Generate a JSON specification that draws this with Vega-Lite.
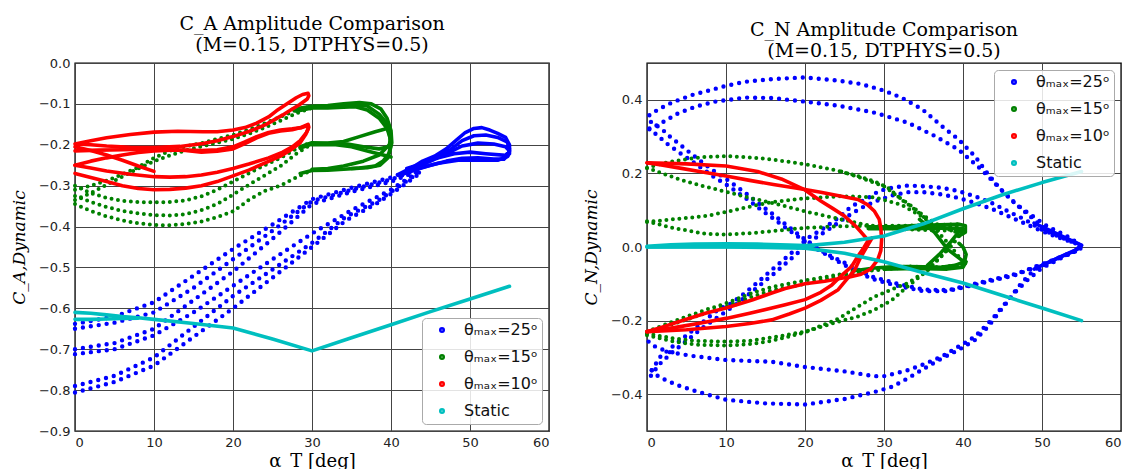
{
"$schema": "https://vega.github.io/schema/vega-lite/v6.json",
"background": "white",
"padding": {"left": 9, "top": 14, "right": 0, "bottom": 0},
"spacing": 31,
"resolve": {"scale": {"color": "independent"}, "legend": {"color": "independent"}},
"config": {
  "view": {"stroke": "black", "strokeWidth": 1.4},
  "axis": {"grid": true, "gridColor": "#444444", "gridWidth": 1, "domain": false, "ticks": false, "labelPadding": 5, "labelFont": "DejaVu Sans", "labelFontSize": 13, "labelColor": "#222222", "titleFont": "DejaVu Serif", "titleFontSize": 18, "titleFontWeight": "normal", "titleColor": "#000000"},
  "axisX": {"titlePadding": 3},
  "axisY": {"titlePadding": 10, "titleFontStyle": "italic", "titleFontSize": 17},
  "title": {"font": "DejaVu Serif", "fontSize": 19, "fontWeight": "normal", "color": "#000000", "lineHeight": 21, "offset": 2},
  "legend": {"title": null, "offset": 7, "symbolType": "circle", "symbolSize": 6, "symbolStrokeWidth": 3.6, "symbolDash": [], "symbolOffset": 8, "labelOffset": 14, "labelFont": "DejaVu Sans", "labelFontSize": 16, "labelColor": "#111111", "rowPadding": 9, "padding": 4, "fillColor": "rgba(255,255,255,0.85)", "strokeColor": "#aaaaaa", "cornerRadius": 4}
},
"datasets": {
"a_dot": [
{"s":"25","b":"b1","x":0,"y":-0.638},{"s":"25","b":"b1","x":5,"y":-0.62},{"s":"25","b":"b1","x":10,"y":-0.585},{"s":"25","b":"b1","x":15,"y":-0.52},{"s":"25","b":"b1","x":20,"y":-0.455},{"s":"25","b":"b1","x":25,"y":-0.395},{"s":"25","b":"b1","x":30,"y":-0.333},{"s":"25","b":"b1","x":35,"y":-0.305},{"s":"25","b":"b1","x":40,"y":-0.28},{"s":"25","b":"b1","x":44,"y":-0.25},
{"s":"25","b":"b2","x":0,"y":-0.65},{"s":"25","b":"b2","x":5,"y":-0.635},{"s":"25","b":"b2","x":10,"y":-0.61},{"s":"25","b":"b2","x":15,"y":-0.55},{"s":"25","b":"b2","x":20,"y":-0.48},{"s":"25","b":"b2","x":25,"y":-0.41},{"s":"25","b":"b2","x":30,"y":-0.338},{"s":"25","b":"b2","x":35,"y":-0.31},{"s":"25","b":"b2","x":40,"y":-0.285},{"s":"25","b":"b2","x":44,"y":-0.255},
{"s":"25","b":"b3","x":0,"y":-0.7},{"s":"25","b":"b3","x":5,"y":-0.685},{"s":"25","b":"b3","x":10,"y":-0.65},{"s":"25","b":"b3","x":15,"y":-0.58},{"s":"25","b":"b3","x":20,"y":-0.51},{"s":"25","b":"b3","x":25,"y":-0.43},{"s":"25","b":"b3","x":30,"y":-0.345},{"s":"25","b":"b3","x":35,"y":-0.315},{"s":"25","b":"b3","x":40,"y":-0.29},{"s":"25","b":"b3","x":44,"y":-0.26},
{"s":"25","b":"b4","x":0,"y":-0.712},{"s":"25","b":"b4","x":5,"y":-0.7},{"s":"25","b":"b4","x":10,"y":-0.666},{"s":"25","b":"b4","x":15,"y":-0.61},{"s":"25","b":"b4","x":20,"y":-0.545},{"s":"25","b":"b4","x":25,"y":-0.48},{"s":"25","b":"b4","x":30,"y":-0.417},{"s":"25","b":"b4","x":35,"y":-0.36},{"s":"25","b":"b4","x":40,"y":-0.31},{"s":"25","b":"b4","x":44,"y":-0.258},
{"s":"25","b":"b5","x":0,"y":-0.79},{"s":"25","b":"b5","x":5,"y":-0.765},{"s":"25","b":"b5","x":10,"y":-0.72},{"s":"25","b":"b5","x":15,"y":-0.645},{"s":"25","b":"b5","x":20,"y":-0.57},{"s":"25","b":"b5","x":25,"y":-0.505},{"s":"25","b":"b5","x":30,"y":-0.44},{"s":"25","b":"b5","x":34.3,"y":-0.376},{"s":"25","b":"b5","x":38.5,"y":-0.335},{"s":"25","b":"b5","x":41.5,"y":-0.295},{"s":"25","b":"b5","x":44,"y":-0.262},
{"s":"25","b":"b6","x":0,"y":-0.806},{"s":"25","b":"b6","x":5,"y":-0.78},{"s":"25","b":"b6","x":10,"y":-0.74},{"s":"25","b":"b6","x":15,"y":-0.67},{"s":"25","b":"b6","x":20,"y":-0.6},{"s":"25","b":"b6","x":25,"y":-0.525},{"s":"25","b":"b6","x":30,"y":-0.45},{"s":"25","b":"b6","x":34.3,"y":-0.385},{"s":"25","b":"b6","x":38.5,"y":-0.34},{"s":"25","b":"b6","x":41.5,"y":-0.3},{"s":"25","b":"b6","x":44,"y":-0.265},
{"s":"15","b":"g1","x":0,"y":-0.31},{"s":"15","b":"g1","x":2,"y":-0.3},{"s":"15","b":"g1","x":4,"y":-0.288},{"s":"15","b":"g1","x":6,"y":-0.272},{"s":"15","b":"g1","x":8,"y":-0.255},{"s":"15","b":"g1","x":10,"y":-0.232},{"s":"15","b":"g1","x":12,"y":-0.215},{"s":"15","b":"g1","x":14,"y":-0.204},{"s":"15","b":"g1","x":16,"y":-0.196},{"s":"15","b":"g1","x":18,"y":-0.186},{"s":"15","b":"g1","x":20,"y":-0.176},{"s":"15","b":"g1","x":22,"y":-0.163},{"s":"15","b":"g1","x":24,"y":-0.148},{"s":"15","b":"g1","x":26,"y":-0.132},{"s":"15","b":"g1","x":28,"y":-0.115},{"s":"15","b":"g1","x":30,"y":-0.106},
{"s":"15","b":"g2","x":0,"y":-0.335},{"s":"15","b":"g2","x":2,"y":-0.318},{"s":"15","b":"g2","x":4,"y":-0.298},{"s":"15","b":"g2","x":6,"y":-0.278},{"s":"15","b":"g2","x":8,"y":-0.258},{"s":"15","b":"g2","x":10,"y":-0.24},{"s":"15","b":"g2","x":12,"y":-0.226},{"s":"15","b":"g2","x":14,"y":-0.214},{"s":"15","b":"g2","x":16,"y":-0.204},{"s":"15","b":"g2","x":18,"y":-0.195},{"s":"15","b":"g2","x":20,"y":-0.186},{"s":"15","b":"g2","x":22,"y":-0.173},{"s":"15","b":"g2","x":24,"y":-0.158},{"s":"15","b":"g2","x":26,"y":-0.141},{"s":"15","b":"g2","x":28,"y":-0.123},{"s":"15","b":"g2","x":30,"y":-0.11},
{"s":"15","b":"g3","x":0,"y":-0.345},{"s":"15","b":"g3","x":2,"y":-0.362},{"s":"15","b":"g3","x":4,"y":-0.375},{"s":"15","b":"g3","x":6,"y":-0.385},{"s":"15","b":"g3","x":8,"y":-0.392},{"s":"15","b":"g3","x":10,"y":-0.396},{"s":"15","b":"g3","x":12,"y":-0.397},{"s":"15","b":"g3","x":14,"y":-0.394},{"s":"15","b":"g3","x":16,"y":-0.388},{"s":"15","b":"g3","x":18,"y":-0.377},{"s":"15","b":"g3","x":20,"y":-0.363},{"s":"15","b":"g3","x":22,"y":-0.335},{"s":"15","b":"g3","x":24,"y":-0.313},{"s":"15","b":"g3","x":26,"y":-0.3},{"s":"15","b":"g3","x":28,"y":-0.28},{"s":"15","b":"g3","x":30,"y":-0.262},
{"s":"15","b":"g4","x":0,"y":-0.325},{"s":"15","b":"g4","x":2,"y":-0.34},{"s":"15","b":"g4","x":4,"y":-0.352},{"s":"15","b":"g4","x":6,"y":-0.362},{"s":"15","b":"g4","x":8,"y":-0.368},{"s":"15","b":"g4","x":10,"y":-0.372},{"s":"15","b":"g4","x":12,"y":-0.373},{"s":"15","b":"g4","x":14,"y":-0.37},{"s":"15","b":"g4","x":16,"y":-0.36},{"s":"15","b":"g4","x":18,"y":-0.345},{"s":"15","b":"g4","x":20,"y":-0.322},{"s":"15","b":"g4","x":22,"y":-0.298},{"s":"15","b":"g4","x":24,"y":-0.275},{"s":"15","b":"g4","x":26,"y":-0.252},{"s":"15","b":"g4","x":28,"y":-0.222},{"s":"15","b":"g4","x":30,"y":-0.198},
{"s":"15","b":"g5","x":0,"y":-0.3},{"s":"15","b":"g5","x":2,"y":-0.318},{"s":"15","b":"g5","x":4,"y":-0.33},{"s":"15","b":"g5","x":6,"y":-0.337},{"s":"15","b":"g5","x":8,"y":-0.34},{"s":"15","b":"g5","x":10,"y":-0.341},{"s":"15","b":"g5","x":12,"y":-0.34},{"s":"15","b":"g5","x":14,"y":-0.336},{"s":"15","b":"g5","x":16,"y":-0.326},{"s":"15","b":"g5","x":18,"y":-0.31},{"s":"15","b":"g5","x":20,"y":-0.29},{"s":"15","b":"g5","x":22,"y":-0.27},{"s":"15","b":"g5","x":24,"y":-0.25},{"s":"15","b":"g5","x":26,"y":-0.232},{"s":"15","b":"g5","x":28,"y":-0.21},{"s":"15","b":"g5","x":30,"y":-0.193}
],
"a_solid": [
{"s":"25","b":"L1","x":41,"y":-0.272},{"s":"25","b":"L1","x":42,"y":-0.262},{"s":"25","b":"L1","x":43,"y":-0.252},{"s":"25","b":"L1","x":44,"y":-0.24},{"s":"25","b":"L1","x":45.5,"y":-0.228},{"s":"25","b":"L1","x":47,"y":-0.21},{"s":"25","b":"L1","x":48.2,"y":-0.19},{"s":"25","b":"L1","x":49.4,"y":-0.17},{"s":"25","b":"L1","x":50.5,"y":-0.16},{"s":"25","b":"L1","x":51.5,"y":-0.158},{"s":"25","b":"L1","x":52.5,"y":-0.164},{"s":"25","b":"L1","x":53.5,"y":-0.172},{"s":"25","b":"L1","x":54.5,"y":-0.182},{"s":"25","b":"L1","x":55,"y":-0.2},{"s":"25","b":"L1","x":55,"y":-0.222},{"s":"25","b":"L1","x":54.3,"y":-0.235},{"s":"25","b":"L1","x":53,"y":-0.235},{"s":"25","b":"L1","x":51,"y":-0.232},{"s":"25","b":"L1","x":49,"y":-0.233},{"s":"25","b":"L1","x":47,"y":-0.24},{"s":"25","b":"L1","x":45,"y":-0.25},{"s":"25","b":"L1","x":43,"y":-0.262},{"s":"25","b":"L1","x":41,"y":-0.275},
{"s":"25","b":"L2","x":42,"y":-0.26},{"s":"25","b":"L2","x":44,"y":-0.247},{"s":"25","b":"L2","x":46,"y":-0.23},{"s":"25","b":"L2","x":47.5,"y":-0.212},{"s":"25","b":"L2","x":49,"y":-0.19},{"s":"25","b":"L2","x":50.5,"y":-0.178},{"s":"25","b":"L2","x":52,"y":-0.176},{"s":"25","b":"L2","x":53.5,"y":-0.182},{"s":"25","b":"L2","x":54.7,"y":-0.193},{"s":"25","b":"L2","x":55,"y":-0.21},{"s":"25","b":"L2","x":54.8,"y":-0.228},{"s":"25","b":"L2","x":53.5,"y":-0.238},{"s":"25","b":"L2","x":51,"y":-0.237},{"s":"25","b":"L2","x":48.5,"y":-0.238},{"s":"25","b":"L2","x":46,"y":-0.245},{"s":"25","b":"L2","x":44,"y":-0.255},{"s":"25","b":"L2","x":42,"y":-0.267},
{"s":"25","b":"L3","x":43,"y":-0.255},{"s":"25","b":"L3","x":45,"y":-0.24},{"s":"25","b":"L3","x":47,"y":-0.222},{"s":"25","b":"L3","x":49,"y":-0.203},{"s":"25","b":"L3","x":51,"y":-0.196},{"s":"25","b":"L3","x":53,"y":-0.198},{"s":"25","b":"L3","x":54.5,"y":-0.205},{"s":"25","b":"L3","x":55,"y":-0.215},{"s":"25","b":"L3","x":54.5,"y":-0.226},{"s":"25","b":"L3","x":52,"y":-0.222},{"s":"25","b":"L3","x":50,"y":-0.218},{"s":"25","b":"L3","x":48,"y":-0.222},{"s":"25","b":"L3","x":46,"y":-0.232},{"s":"25","b":"L3","x":44,"y":-0.246},{"s":"25","b":"L3","x":42,"y":-0.258},
{"s":"15","b":"C1","x":27.5,"y":-0.113},{"s":"15","b":"C1","x":30,"y":-0.106},{"s":"15","b":"C1","x":32,"y":-0.104},{"s":"15","b":"C1","x":34,"y":-0.1},{"s":"15","b":"C1","x":36,"y":-0.097},{"s":"15","b":"C1","x":37.5,"y":-0.1},{"s":"15","b":"C1","x":38.7,"y":-0.112},{"s":"15","b":"C1","x":39.5,"y":-0.135},{"s":"15","b":"C1","x":40,"y":-0.165},{"s":"15","b":"C1","x":40.1,"y":-0.195},{"s":"15","b":"C1","x":39.8,"y":-0.22},{"s":"15","b":"C1","x":39,"y":-0.24},{"s":"15","b":"C1","x":38,"y":-0.252},{"s":"15","b":"C1","x":36,"y":-0.257},{"s":"15","b":"C1","x":34,"y":-0.26},{"s":"15","b":"C1","x":32,"y":-0.262},{"s":"15","b":"C1","x":30,"y":-0.263},{"s":"15","b":"C1","x":28.5,"y":-0.27},
{"s":"15","b":"C2","x":28,"y":-0.118},{"s":"15","b":"C2","x":30,"y":-0.11},{"s":"15","b":"C2","x":32,"y":-0.11},{"s":"15","b":"C2","x":34,"y":-0.108},{"s":"15","b":"C2","x":35.5,"y":-0.107},{"s":"15","b":"C2","x":37,"y":-0.115},{"s":"15","b":"C2","x":38.5,"y":-0.135},{"s":"15","b":"C2","x":39.5,"y":-0.16},{"s":"15","b":"C2","x":40,"y":-0.19},{"s":"15","b":"C2","x":39.7,"y":-0.205},{"s":"15","b":"C2","x":38.5,"y":-0.21},{"s":"15","b":"C2","x":36.5,"y":-0.205},{"s":"15","b":"C2","x":34.5,"y":-0.198},{"s":"15","b":"C2","x":32,"y":-0.197},{"s":"15","b":"C2","x":30,"y":-0.198},{"s":"15","b":"C2","x":28.5,"y":-0.208},
{"s":"15","b":"C3","x":28.5,"y":-0.205},{"s":"15","b":"C3","x":30,"y":-0.195},{"s":"15","b":"C3","x":32,"y":-0.196},{"s":"15","b":"C3","x":34,"y":-0.192},{"s":"15","b":"C3","x":36,"y":-0.18},{"s":"15","b":"C3","x":38,"y":-0.168},{"s":"15","b":"C3","x":39.5,"y":-0.16},{"s":"15","b":"C3","x":40,"y":-0.175},{"s":"15","b":"C3","x":39.8,"y":-0.2},{"s":"15","b":"C3","x":38.5,"y":-0.225},{"s":"15","b":"C3","x":36.5,"y":-0.24},{"s":"15","b":"C3","x":34,"y":-0.252},{"s":"15","b":"C3","x":32,"y":-0.258},{"s":"15","b":"C3","x":30,"y":-0.26},
{"s":"15","b":"C4","x":30,"y":-0.108},{"s":"15","b":"C4","x":33,"y":-0.106},{"s":"15","b":"C4","x":35,"y":-0.102},{"s":"15","b":"C4","x":37,"y":-0.105},{"s":"15","b":"C4","x":38.5,"y":-0.125},{"s":"15","b":"C4","x":39.6,"y":-0.15},{"s":"15","b":"C4","x":40,"y":-0.2},{"s":"15","b":"C4","x":39.6,"y":-0.232},{"s":"15","b":"C4","x":38.6,"y":-0.25},{"s":"15","b":"C4","x":37,"y":-0.256},{"s":"15","b":"C4","x":35,"y":-0.258},
{"s":"15","b":"C5","x":30,"y":-0.2},{"s":"15","b":"C5","x":33,"y":-0.2},{"s":"15","b":"C5","x":35,"y":-0.205},{"s":"15","b":"C5","x":37,"y":-0.215},{"s":"15","b":"C5","x":39,"y":-0.225},{"s":"15","b":"C5","x":40,"y":-0.23},
{"s":"10","b":"R0","x":0,"y":-0.205},{"s":"10","b":"R0","x":2,"y":-0.214},{"s":"10","b":"R0","x":4,"y":-0.225},{"s":"10","b":"R0","x":6,"y":-0.238},{"s":"10","b":"R0","x":8,"y":-0.252},{"s":"10","b":"R0","x":10,"y":-0.265},
{"s":"10","b":"R1","x":0,"y":-0.198},{"s":"10","b":"R1","x":2,"y":-0.19},{"s":"10","b":"R1","x":4,"y":-0.183},{"s":"10","b":"R1","x":7,"y":-0.175},{"s":"10","b":"R1","x":10,"y":-0.169},{"s":"10","b":"R1","x":13,"y":-0.167},{"s":"10","b":"R1","x":16.2,"y":-0.168},{"s":"10","b":"R1","x":18,"y":-0.168},{"s":"10","b":"R1","x":20,"y":-0.164},{"s":"10","b":"R1","x":21.5,"y":-0.158},{"s":"10","b":"R1","x":23,"y":-0.147},{"s":"10","b":"R1","x":24.5,"y":-0.132},{"s":"10","b":"R1","x":25.5,"y":-0.117},{"s":"10","b":"R1","x":26.8,"y":-0.1},{"s":"10","b":"R1","x":28,"y":-0.085},{"s":"10","b":"R1","x":28.8,"y":-0.077},{"s":"10","b":"R1","x":29.5,"y":-0.074},{"s":"10","b":"R1","x":29.6,"y":-0.08},{"s":"10","b":"R1","x":29.4,"y":-0.088},{"s":"10","b":"R1","x":28.4,"y":-0.102},{"s":"10","b":"R1","x":27.3,"y":-0.115},{"s":"10","b":"R1","x":26.3,"y":-0.127},{"s":"10","b":"R1","x":24.2,"y":-0.15},{"s":"10","b":"R1","x":22.1,"y":-0.167},{"s":"10","b":"R1","x":20,"y":-0.18},{"s":"10","b":"R1","x":18,"y":-0.19},{"s":"10","b":"R1","x":16.2,"y":-0.197},{"s":"10","b":"R1","x":13.3,"y":-0.204},{"s":"10","b":"R1","x":10,"y":-0.207},{"s":"10","b":"R1","x":7,"y":-0.206},{"s":"10","b":"R1","x":4,"y":-0.203},{"s":"10","b":"R1","x":2,"y":-0.2},{"s":"10","b":"R1","x":0,"y":-0.198},
{"s":"10","b":"R2","x":0,"y":-0.215},{"s":"10","b":"R2","x":3,"y":-0.213},{"s":"10","b":"R2","x":6,"y":-0.212},{"s":"10","b":"R2","x":9,"y":-0.211},{"s":"10","b":"R2","x":12,"y":-0.212},{"s":"10","b":"R2","x":14,"y":-0.214},{"s":"10","b":"R2","x":16,"y":-0.218},{"s":"10","b":"R2","x":18,"y":-0.216},{"s":"10","b":"R2","x":20,"y":-0.21},{"s":"10","b":"R2","x":21.5,"y":-0.197},{"s":"10","b":"R2","x":23,"y":-0.183},{"s":"10","b":"R2","x":24.5,"y":-0.172},{"s":"10","b":"R2","x":26,"y":-0.166},{"s":"10","b":"R2","x":27.5,"y":-0.163},{"s":"10","b":"R2","x":28.7,"y":-0.157},{"s":"10","b":"R2","x":29.5,"y":-0.15},{"s":"10","b":"R2","x":29.6,"y":-0.157},{"s":"10","b":"R2","x":29.3,"y":-0.17},{"s":"10","b":"R2","x":28.5,"y":-0.19},{"s":"10","b":"R2","x":27.5,"y":-0.205},{"s":"10","b":"R2","x":26.3,"y":-0.218},{"s":"10","b":"R2","x":24.5,"y":-0.232},{"s":"10","b":"R2","x":22,"y":-0.247},{"s":"10","b":"R2","x":20,"y":-0.258},{"s":"10","b":"R2","x":18,"y":-0.267},{"s":"10","b":"R2","x":16,"y":-0.274},{"s":"10","b":"R2","x":14,"y":-0.278},{"s":"10","b":"R2","x":12,"y":-0.279},{"s":"10","b":"R2","x":10,"y":-0.278},{"s":"10","b":"R2","x":7,"y":-0.272},{"s":"10","b":"R2","x":4,"y":-0.264},{"s":"10","b":"R2","x":2,"y":-0.257},{"s":"10","b":"R2","x":0,"y":-0.25},
{"s":"10","b":"R3","x":0,"y":-0.25},{"s":"10","b":"R3","x":2,"y":-0.24},{"s":"10","b":"R3","x":4,"y":-0.232},{"s":"10","b":"R3","x":6,"y":-0.225},{"s":"10","b":"R3","x":8,"y":-0.219},{"s":"10","b":"R3","x":10,"y":-0.215},{"s":"10","b":"R3","x":12,"y":-0.213},{"s":"10","b":"R3","x":14,"y":-0.213},{"s":"10","b":"R3","x":16,"y":-0.214},{"s":"10","b":"R3","x":18,"y":-0.212},{"s":"10","b":"R3","x":20,"y":-0.205},{"s":"10","b":"R3","x":21.5,"y":-0.193},{"s":"10","b":"R3","x":23,"y":-0.18},{"s":"10","b":"R3","x":24.5,"y":-0.17},{"s":"10","b":"R3","x":26,"y":-0.164},{"s":"10","b":"R3","x":27.5,"y":-0.161},{"s":"10","b":"R3","x":28.7,"y":-0.158},{"s":"10","b":"R3","x":29.5,"y":-0.153},{"s":"10","b":"R3","x":29.5,"y":-0.162},{"s":"10","b":"R3","x":29.2,"y":-0.175},{"s":"10","b":"R3","x":28.5,"y":-0.195},{"s":"10","b":"R3","x":27.5,"y":-0.21},{"s":"10","b":"R3","x":26,"y":-0.228},{"s":"10","b":"R3","x":24,"y":-0.245},{"s":"10","b":"R3","x":22,"y":-0.262},{"s":"10","b":"R3","x":20,"y":-0.276},{"s":"10","b":"R3","x":18,"y":-0.29},{"s":"10","b":"R3","x":16,"y":-0.3},{"s":"10","b":"R3","x":14,"y":-0.306},{"s":"10","b":"R3","x":12,"y":-0.309},{"s":"10","b":"R3","x":10,"y":-0.31},{"s":"10","b":"R3","x":8,"y":-0.307},{"s":"10","b":"R3","x":6,"y":-0.3},{"s":"10","b":"R3","x":4,"y":-0.29},{"s":"10","b":"R3","x":2,"y":-0.28},{"s":"10","b":"R3","x":0,"y":-0.27},
{"s":"S","b":"S1","x":0,"y":-0.61},{"s":"S","b":"S1","x":2,"y":-0.612},{"s":"S","b":"S1","x":4,"y":-0.616},{"s":"S","b":"S1","x":6,"y":-0.62},{"s":"S","b":"S1","x":8,"y":-0.623},{"s":"S","b":"S1","x":10,"y":-0.627},{"s":"S","b":"S1","x":15,"y":-0.637},{"s":"S","b":"S1","x":20,"y":-0.648},{"s":"S","b":"S1","x":25,"y":-0.675},{"s":"S","b":"S1","x":30,"y":-0.704},{"s":"S","b":"S1","x":35,"y":-0.672},{"s":"S","b":"S1","x":40,"y":-0.64},{"s":"S","b":"S1","x":45,"y":-0.608},{"s":"S","b":"S1","x":50,"y":-0.577},{"s":"S","b":"S1","x":55,"y":-0.546},
{"s":"S","b":"S2","x":0,"y":-0.627},{"s":"S","b":"S2","x":2,"y":-0.627},{"s":"S","b":"S2","x":4,"y":-0.626},{"s":"S","b":"S2","x":6,"y":-0.625},{"s":"S","b":"S2","x":8,"y":-0.624}
],
"n_dot": [
{"s":"25","b":"t1","x":0.3,"y":0.358},{"s":"25","b":"t1","x":1.5,"y":0.375},{"s":"25","b":"t1","x":3.2,"y":0.393},{"s":"25","b":"t1","x":5.7,"y":0.413},{"s":"25","b":"t1","x":7.8,"y":0.425},{"s":"25","b":"t1","x":10,"y":0.438},{"s":"25","b":"t1","x":12.4,"y":0.449},{"s":"25","b":"t1","x":15.8,"y":0.456},{"s":"25","b":"t1","x":20,"y":0.461},{"s":"25","b":"t1","x":24.2,"y":0.452},{"s":"25","b":"t1","x":27.1,"y":0.443},{"s":"25","b":"t1","x":30,"y":0.425},{"s":"25","b":"t1","x":32.2,"y":0.406},{"s":"25","b":"t1","x":34.8,"y":0.375},{"s":"25","b":"t1","x":37.3,"y":0.329},{"s":"25","b":"t1","x":39.4,"y":0.293},{"s":"25","b":"t1","x":41.5,"y":0.247},{"s":"25","b":"t1","x":43.1,"y":0.2},{"s":"25","b":"t1","x":44.8,"y":0.156},{"s":"25","b":"t1","x":46.5,"y":0.12},{"s":"25","b":"t1","x":48.2,"y":0.093},{"s":"25","b":"t1","x":50.7,"y":0.056},{"s":"25","b":"t1","x":53.2,"y":0.029},{"s":"25","b":"t1","x":54.7,"y":0.009},
{"s":"25","b":"t2","x":0.3,"y":0.32},{"s":"25","b":"t2","x":1.2,"y":0.33},{"s":"25","b":"t2","x":2.3,"y":0.343},{"s":"25","b":"t2","x":4,"y":0.364},{"s":"25","b":"t2","x":6.1,"y":0.381},{"s":"25","b":"t2","x":8.6,"y":0.395},{"s":"25","b":"t2","x":12.4,"y":0.406},{"s":"25","b":"t2","x":15.8,"y":0.405},{"s":"25","b":"t2","x":20,"y":0.395},{"s":"25","b":"t2","x":24.2,"y":0.384},{"s":"25","b":"t2","x":28.8,"y":0.365},{"s":"25","b":"t2","x":33,"y":0.338},{"s":"25","b":"t2","x":36.4,"y":0.302},{"s":"25","b":"t2","x":39.4,"y":0.265},{"s":"25","b":"t2","x":42.3,"y":0.211},{"s":"25","b":"t2","x":44.4,"y":0.165},{"s":"25","b":"t2","x":47,"y":0.111},{"s":"25","b":"t2","x":50,"y":0.056},{"s":"25","b":"t2","x":52.4,"y":0.029},{"s":"25","b":"t2","x":54.7,"y":0.009},
{"s":"25","b":"x1","x":0.5,"y":0.34},{"s":"25","b":"x1","x":1.9,"y":0.32},{"s":"25","b":"x1","x":3,"y":0.298},{"s":"25","b":"x1","x":4.2,"y":0.278},{"s":"25","b":"x1","x":5.5,"y":0.255},{"s":"25","b":"x1","x":7,"y":0.23},{"s":"25","b":"x1","x":8.5,"y":0.206},{"s":"25","b":"x1","x":10,"y":0.185},{"s":"25","b":"x1","x":11.5,"y":0.162},{"s":"25","b":"x1","x":13,"y":0.138},{"s":"25","b":"x1","x":14.5,"y":0.112},{"s":"25","b":"x1","x":16,"y":0.088},{"s":"25","b":"x1","x":17.5,"y":0.062},{"s":"25","b":"x1","x":19,"y":0.037},{"s":"25","b":"x1","x":20.5,"y":0.012},{"s":"25","b":"x1","x":22.9,"y":-0.021},{"s":"25","b":"x1","x":25.5,"y":-0.048},{"s":"25","b":"x1","x":28.4,"y":-0.08},{"s":"25","b":"x1","x":31.4,"y":-0.098},{"s":"25","b":"x1","x":35.1,"y":-0.116},{"s":"25","b":"x1","x":38.2,"y":-0.117},{"s":"25","b":"x1","x":42.3,"y":-0.096},{"s":"25","b":"x1","x":46.9,"y":-0.072},{"s":"25","b":"x1","x":51.3,"y":-0.036},{"s":"25","b":"x1","x":54.7,"y":-0.007},
{"s":"25","b":"x2","x":0.3,"y":0.322},{"s":"25","b":"x2","x":1.5,"y":0.3},{"s":"25","b":"x2","x":2.7,"y":0.278},{"s":"25","b":"x2","x":4,"y":0.258},{"s":"25","b":"x2","x":5.5,"y":0.236},{"s":"25","b":"x2","x":7,"y":0.213},{"s":"25","b":"x2","x":8.5,"y":0.19},{"s":"25","b":"x2","x":10,"y":0.17},{"s":"25","b":"x2","x":11.5,"y":0.148},{"s":"25","b":"x2","x":13,"y":0.125},{"s":"25","b":"x2","x":14.5,"y":0.1},{"s":"25","b":"x2","x":16,"y":0.077},{"s":"25","b":"x2","x":17.5,"y":0.053},{"s":"25","b":"x2","x":19,"y":0.03},{"s":"25","b":"x2","x":20.5,"y":0.008},{"s":"25","b":"x2","x":23,"y":-0.025},{"s":"25","b":"x2","x":25.5,"y":-0.055},{"s":"25","b":"x2","x":28.4,"y":-0.086},{"s":"25","b":"x2","x":31.4,"y":-0.104},{"s":"25","b":"x2","x":35,"y":-0.12},{"s":"25","b":"x2","x":38,"y":-0.12},{"s":"25","b":"x2","x":42,"y":-0.1},{"s":"25","b":"x2","x":46.5,"y":-0.077},{"s":"25","b":"x2","x":51,"y":-0.04},{"s":"25","b":"x2","x":54.7,"y":-0.008},
{"s":"25","b":"x3","x":0.6,"y":-0.335},{"s":"25","b":"x3","x":1.7,"y":-0.298},{"s":"25","b":"x3","x":3.2,"y":-0.271},{"s":"25","b":"x3","x":5.3,"y":-0.235},{"s":"25","b":"x3","x":7.4,"y":-0.198},{"s":"25","b":"x3","x":9,"y":-0.17},{"s":"25","b":"x3","x":10.7,"y":-0.153},{"s":"25","b":"x3","x":12.4,"y":-0.125},{"s":"25","b":"x3","x":14.1,"y":-0.094},{"s":"25","b":"x3","x":15.8,"y":-0.062},{"s":"25","b":"x3","x":17,"y":-0.04},{"s":"25","b":"x3","x":18.3,"y":-0.016},{"s":"25","b":"x3","x":20.4,"y":0.025},{"s":"25","b":"x3","x":22.3,"y":0.05},{"s":"25","b":"x3","x":24.2,"y":0.079},{"s":"25","b":"x3","x":25.9,"y":0.111},{"s":"25","b":"x3","x":28.4,"y":0.138},{"s":"25","b":"x3","x":29.3,"y":0.152},{"s":"25","b":"x3","x":31,"y":0.161},{"s":"25","b":"x3","x":33,"y":0.167},{"s":"25","b":"x3","x":35.1,"y":0.165},{"s":"25","b":"x3","x":37.3,"y":0.161},{"s":"25","b":"x3","x":39.4,"y":0.152},{"s":"25","b":"x3","x":41.5,"y":0.138},{"s":"25","b":"x3","x":43.6,"y":0.12},{"s":"25","b":"x3","x":45.7,"y":0.097},{"s":"25","b":"x3","x":47.8,"y":0.075},{"s":"25","b":"x3","x":50,"y":0.047},{"s":"25","b":"x3","x":52.1,"y":0.029},{"s":"25","b":"x3","x":54.1,"y":0.011},
{"s":"25","b":"x4","x":0.5,"y":-0.35},{"s":"25","b":"x4","x":1.5,"y":-0.32},{"s":"25","b":"x4","x":3,"y":-0.29},{"s":"25","b":"x4","x":5,"y":-0.255},{"s":"25","b":"x4","x":7,"y":-0.22},{"s":"25","b":"x4","x":9,"y":-0.19},{"s":"25","b":"x4","x":11,"y":-0.16},{"s":"25","b":"x4","x":12.8,"y":-0.13},{"s":"25","b":"x4","x":14.5,"y":-0.1},{"s":"25","b":"x4","x":16.2,"y":-0.07},{"s":"25","b":"x4","x":17.8,"y":-0.04},{"s":"25","b":"x4","x":19.4,"y":-0.01},{"s":"25","b":"x4","x":21,"y":0.02},{"s":"25","b":"x4","x":23,"y":0.048},{"s":"25","b":"x4","x":25,"y":0.078},{"s":"25","b":"x4","x":27,"y":0.105},{"s":"25","b":"x4","x":29,"y":0.125},{"s":"25","b":"x4","x":31,"y":0.14},{"s":"25","b":"x4","x":33,"y":0.149},{"s":"25","b":"x4","x":35,"y":0.149},{"s":"25","b":"x4","x":37.3,"y":0.143},{"s":"25","b":"x4","x":39.5,"y":0.133},{"s":"25","b":"x4","x":41.5,"y":0.12},{"s":"25","b":"x4","x":43.6,"y":0.104},{"s":"25","b":"x4","x":45.7,"y":0.084},{"s":"25","b":"x4","x":48,"y":0.062},{"s":"25","b":"x4","x":50,"y":0.043},{"s":"25","b":"x4","x":52.2,"y":0.025},{"s":"25","b":"x4","x":54.5,"y":0.008},
{"s":"25","b":"u1","x":0.6,"y":-0.335},{"s":"25","b":"u1","x":1.5,"y":-0.353},{"s":"25","b":"u1","x":3.8,"y":-0.375},{"s":"25","b":"u1","x":6.5,"y":-0.394},{"s":"25","b":"u1","x":10,"y":-0.415},{"s":"25","b":"u1","x":15,"y":-0.425},{"s":"25","b":"u1","x":20,"y":-0.428},{"s":"25","b":"u1","x":25,"y":-0.413},{"s":"25","b":"u1","x":28.8,"y":-0.394},{"s":"25","b":"u1","x":31,"y":-0.38},{"s":"25","b":"u1","x":33,"y":-0.357},{"s":"25","b":"u1","x":35.1,"y":-0.33},{"s":"25","b":"u1","x":37.3,"y":-0.303},{"s":"25","b":"u1","x":39.4,"y":-0.28},{"s":"25","b":"u1","x":41.5,"y":-0.253},{"s":"25","b":"u1","x":43.2,"y":-0.216},{"s":"25","b":"u1","x":44.8,"y":-0.171},{"s":"25","b":"u1","x":46.5,"y":-0.125},{"s":"25","b":"u1","x":48.2,"y":-0.089},{"s":"25","b":"u1","x":50,"y":-0.057},{"s":"25","b":"u1","x":52,"y":-0.035},{"s":"25","b":"u1","x":54.1,"y":-0.012},{"s":"25","b":"u1","x":55,"y":-0.003},
{"s":"25","b":"u2","x":0.2,"y":-0.257},{"s":"25","b":"u2","x":1,"y":-0.27},{"s":"25","b":"u2","x":2.7,"y":-0.285},{"s":"25","b":"u2","x":5.7,"y":-0.296},{"s":"25","b":"u2","x":10,"y":-0.307},{"s":"25","b":"u2","x":15.8,"y":-0.312},{"s":"25","b":"u2","x":20,"y":-0.326},{"s":"25","b":"u2","x":25,"y":-0.338},{"s":"25","b":"u2","x":28.8,"y":-0.351},{"s":"25","b":"u2","x":30,"y":-0.351},{"s":"25","b":"u2","x":33,"y":-0.335},{"s":"25","b":"u2","x":35.1,"y":-0.318},{"s":"25","b":"u2","x":37.3,"y":-0.298},{"s":"25","b":"u2","x":39.4,"y":-0.271},{"s":"25","b":"u2","x":41.5,"y":-0.244},{"s":"25","b":"u2","x":43.6,"y":-0.198},{"s":"25","b":"u2","x":45.7,"y":-0.144},{"s":"25","b":"u2","x":47.4,"y":-0.098},{"s":"25","b":"u2","x":49,"y":-0.062},{"s":"25","b":"u2","x":51.6,"y":-0.035},{"s":"25","b":"u2","x":54.1,"y":-0.012},{"s":"25","b":"u2","x":55,"y":-0.003},
{"s":"15","b":"n1","x":0,"y":0.215},{"s":"15","b":"n1","x":2.3,"y":0.229},{"s":"15","b":"n1","x":4.8,"y":0.238},{"s":"15","b":"n1","x":7.4,"y":0.245},{"s":"15","b":"n1","x":10,"y":0.247},{"s":"15","b":"n1","x":13.3,"y":0.243},{"s":"15","b":"n1","x":15.8,"y":0.238},{"s":"15","b":"n1","x":20,"y":0.225},{"s":"15","b":"n1","x":23.4,"y":0.211},{"s":"15","b":"n1","x":26.7,"y":0.193},{"s":"15","b":"n1","x":28.8,"y":0.178},{"s":"15","b":"n1","x":30.5,"y":0.161},{"s":"15","b":"n1","x":32.2,"y":0.129},{"s":"15","b":"n1","x":33.9,"y":0.102},{"s":"15","b":"n1","x":35.1,"y":0.08},{"s":"15","b":"n1","x":36.4,"y":0.05},{"s":"15","b":"n1","x":37.5,"y":0.025},{"s":"15","b":"n1","x":38.5,"y":0.0},{"s":"15","b":"n1","x":39.8,"y":-0.035},{"s":"15","b":"n1","x":40.3,"y":-0.045},
{"s":"15","b":"n1b","x":24.6,"y":0.205},{"s":"15","b":"n1b","x":27.1,"y":0.188},{"s":"15","b":"n1b","x":30,"y":0.165},{"s":"15","b":"n1b","x":31.7,"y":0.138},{"s":"15","b":"n1b","x":33.5,"y":0.111},{"s":"15","b":"n1b","x":35.1,"y":0.084},{"s":"15","b":"n1b","x":36.8,"y":0.061},{"s":"15","b":"n1b","x":38.5,"y":0.045},{"s":"15","b":"n1b","x":40,"y":0.035},
{"s":"15","b":"n2","x":0,"y":0.215},{"s":"15","b":"n2","x":2.3,"y":0.197},{"s":"15","b":"n2","x":4.8,"y":0.179},{"s":"15","b":"n2","x":7.4,"y":0.164},{"s":"15","b":"n2","x":10,"y":0.15},{"s":"15","b":"n2","x":13.3,"y":0.132},{"s":"15","b":"n2","x":15.8,"y":0.12},{"s":"15","b":"n2","x":20,"y":0.097},{"s":"15","b":"n2","x":24.6,"y":0.075},{"s":"15","b":"n2","x":28.8,"y":0.055},{"s":"15","b":"n2","x":33,"y":0.048},{"s":"15","b":"n2","x":37.2,"y":0.045},{"s":"15","b":"n2","x":40,"y":0.045},
{"s":"15","b":"n3","x":0,"y":0.068},{"s":"15","b":"n3","x":3.2,"y":0.075},{"s":"15","b":"n3","x":7.4,"y":0.084},{"s":"15","b":"n3","x":10,"y":0.095},{"s":"15","b":"n3","x":13.3,"y":0.111},{"s":"15","b":"n3","x":15.8,"y":0.122},{"s":"15","b":"n3","x":20,"y":0.132},{"s":"15","b":"n3","x":24.6,"y":0.138},{"s":"15","b":"n3","x":28.8,"y":0.135},{"s":"15","b":"n3","x":32.2,"y":0.115},{"s":"15","b":"n3","x":34.7,"y":0.084},{"s":"15","b":"n3","x":36,"y":0.065},{"s":"15","b":"n3","x":37.5,"y":0.055},{"s":"15","b":"n3","x":40,"y":0.055},
{"s":"15","b":"n4","x":0,"y":0.07},{"s":"15","b":"n4","x":3.2,"y":0.052},{"s":"15","b":"n4","x":7.4,"y":0.036},{"s":"15","b":"n4","x":10,"y":0.034},{"s":"15","b":"n4","x":13.3,"y":0.038},{"s":"15","b":"n4","x":15.8,"y":0.043},{"s":"15","b":"n4","x":20,"y":0.052},{"s":"15","b":"n4","x":24.2,"y":0.056},{"s":"15","b":"n4","x":28.4,"y":0.058},{"s":"15","b":"n4","x":33,"y":0.058},{"s":"15","b":"n4","x":37,"y":0.06},{"s":"15","b":"n4","x":40,"y":0.062},
{"s":"15","b":"n5","x":0,"y":-0.23},{"s":"15","b":"n5","x":3.2,"y":-0.203},{"s":"15","b":"n5","x":7.4,"y":-0.171},{"s":"15","b":"n5","x":10,"y":-0.153},{"s":"15","b":"n5","x":13.3,"y":-0.125},{"s":"15","b":"n5","x":15.8,"y":-0.109},{"s":"15","b":"n5","x":20,"y":-0.091},{"s":"15","b":"n5","x":24.2,"y":-0.075},{"s":"15","b":"n5","x":28.4,"y":-0.064},{"s":"15","b":"n5","x":33,"y":-0.055},{"s":"15","b":"n5","x":37,"y":-0.055},{"s":"15","b":"n5","x":40,"y":-0.05},
{"s":"15","b":"n6","x":0,"y":-0.235},{"s":"15","b":"n6","x":3.2,"y":-0.21},{"s":"15","b":"n6","x":7.4,"y":-0.18},{"s":"15","b":"n6","x":10,"y":-0.162},{"s":"15","b":"n6","x":13.3,"y":-0.135},{"s":"15","b":"n6","x":15.8,"y":-0.118},{"s":"15","b":"n6","x":20,"y":-0.1},{"s":"15","b":"n6","x":24.6,"y":-0.078},{"s":"15","b":"n6","x":28.8,"y":-0.06},{"s":"15","b":"n6","x":33,"y":-0.053},{"s":"15","b":"n6","x":37,"y":-0.056},{"s":"15","b":"n6","x":40,"y":-0.048},
{"s":"15","b":"n7","x":0,"y":-0.235},{"s":"15","b":"n7","x":3.2,"y":-0.248},{"s":"15","b":"n7","x":6,"y":-0.255},{"s":"15","b":"n7","x":10,"y":-0.257},{"s":"15","b":"n7","x":13,"y":-0.255},{"s":"15","b":"n7","x":15.8,"y":-0.246},{"s":"15","b":"n7","x":20,"y":-0.23},{"s":"15","b":"n7","x":24.2,"y":-0.203},{"s":"15","b":"n7","x":26.7,"y":-0.189},{"s":"15","b":"n7","x":28.8,"y":-0.171},{"s":"15","b":"n7","x":31,"y":-0.144},{"s":"15","b":"n7","x":33,"y":-0.107},{"s":"15","b":"n7","x":35.1,"y":-0.071},{"s":"15","b":"n7","x":37.3,"y":-0.025},{"s":"15","b":"n7","x":38.3,"y":0.0},{"s":"15","b":"n7","x":39.6,"y":0.04},{"s":"15","b":"n7","x":40.2,"y":0.055},
{"s":"15","b":"n8","x":0,"y":-0.24},{"s":"15","b":"n8","x":3.2,"y":-0.256},{"s":"15","b":"n8","x":6,"y":-0.265},{"s":"15","b":"n8","x":10,"y":-0.268},{"s":"15","b":"n8","x":13,"y":-0.264},{"s":"15","b":"n8","x":15.8,"y":-0.255},{"s":"15","b":"n8","x":20,"y":-0.232},{"s":"15","b":"n8","x":24.2,"y":-0.195},{"s":"15","b":"n8","x":26.5,"y":-0.165},{"s":"15","b":"n8","x":28.8,"y":-0.135},{"s":"15","b":"n8","x":31,"y":-0.115},{"s":"15","b":"n8","x":33,"y":-0.098},{"s":"15","b":"n8","x":35.6,"y":-0.062},{"s":"15","b":"n8","x":37.2,"y":-0.025},{"s":"15","b":"n8","x":38.5,"y":0.002},{"s":"15","b":"n8","x":39.8,"y":0.038},{"s":"15","b":"n8","x":40.2,"y":0.05}
],
"n_solid": [
{"s":"25","b":"T1","x":49,"y":0.065},{"s":"25","b":"T1","x":51,"y":0.045},{"s":"25","b":"T1","x":53,"y":0.025},{"s":"25","b":"T1","x":54.5,"y":0.01},{"s":"25","b":"T1","x":55,"y":0.004},{"s":"25","b":"T1","x":54.5,"y":-0.006},{"s":"25","b":"T1","x":53,"y":-0.02},{"s":"25","b":"T1","x":51,"y":-0.04},{"s":"25","b":"T1","x":49,"y":-0.06},
{"s":"25","b":"T2","x":50,"y":0.05},{"s":"25","b":"T2","x":52,"y":0.032},{"s":"25","b":"T2","x":54,"y":0.014},{"s":"25","b":"T2","x":55,"y":0.005},{"s":"25","b":"T2","x":54,"y":-0.012},{"s":"25","b":"T2","x":52,"y":-0.03},{"s":"25","b":"T2","x":50,"y":-0.05},
{"s":"15","b":"K1","x":28,"y":0.055},{"s":"15","b":"K1","x":31,"y":0.055},{"s":"15","b":"K1","x":34,"y":0.058},{"s":"15","b":"K1","x":37,"y":0.06},{"s":"15","b":"K1","x":39.5,"y":0.062},{"s":"15","b":"K1","x":40.3,"y":0.058},{"s":"15","b":"K1","x":40.3,"y":0.04},{"s":"15","b":"K1","x":39.5,"y":0.03},
{"s":"15","b":"K2","x":28,"y":0.05},{"s":"15","b":"K2","x":31,"y":0.05},{"s":"15","b":"K2","x":34,"y":0.05},{"s":"15","b":"K2","x":37,"y":0.052},{"s":"15","b":"K2","x":40,"y":0.05},
{"s":"15","b":"K3","x":26,"y":-0.065},{"s":"15","b":"K3","x":28.8,"y":-0.057},{"s":"15","b":"K3","x":31,"y":-0.054},{"s":"15","b":"K3","x":33,"y":-0.053},{"s":"15","b":"K3","x":35,"y":-0.054},{"s":"15","b":"K3","x":37.2,"y":-0.055},{"s":"15","b":"K3","x":39,"y":-0.05},{"s":"15","b":"K3","x":40.2,"y":-0.04},{"s":"15","b":"K3","x":40.4,"y":-0.02},{"s":"15","b":"K3","x":40,"y":0.0},{"s":"15","b":"K3","x":39.5,"y":0.01},
{"s":"15","b":"K4","x":30,"y":-0.06},{"s":"15","b":"K4","x":34,"y":-0.058},{"s":"15","b":"K4","x":38,"y":-0.06},{"s":"15","b":"K4","x":40,"y":-0.055},{"s":"15","b":"K4","x":40.4,"y":-0.04},
{"s":"15","b":"K5","x":34.5,"y":0.075},{"s":"15","b":"K5","x":36.4,"y":0.04},{"s":"15","b":"K5","x":38.1,"y":-0.007},{"s":"15","b":"K5","x":39.8,"y":-0.035},{"s":"15","b":"K5","x":40.3,"y":-0.045},
{"s":"15","b":"K6","x":35.5,"y":-0.05},{"s":"15","b":"K6","x":37,"y":-0.02},{"s":"15","b":"K6","x":38.5,"y":0.015},{"s":"15","b":"K6","x":39.8,"y":0.05},
{"s":"10","b":"RA","x":0,"y":0.229},{"s":"10","b":"RA","x":5,"y":0.226},{"s":"10","b":"RA","x":10,"y":0.22},{"s":"10","b":"RA","x":14,"y":0.205},{"s":"10","b":"RA","x":17,"y":0.185},{"s":"10","b":"RA","x":20,"y":0.155},{"s":"10","b":"RA","x":22,"y":0.125},{"s":"10","b":"RA","x":23.5,"y":0.105},{"s":"10","b":"RA","x":25,"y":0.084},{"s":"10","b":"RA","x":26.5,"y":0.055},{"s":"10","b":"RA","x":28,"y":0.018},{"s":"10","b":"RA","x":27.5,"y":0.0},{"s":"10","b":"RA","x":26.7,"y":-0.025},{"s":"10","b":"RA","x":25.9,"y":-0.053},{"s":"10","b":"RA","x":24.5,"y":-0.08},{"s":"10","b":"RA","x":23.4,"y":-0.103},{"s":"10","b":"RA","x":22,"y":-0.123},{"s":"10","b":"RA","x":20,"y":-0.143},{"s":"10","b":"RA","x":17.5,"y":-0.157},{"s":"10","b":"RA","x":15.8,"y":-0.166},{"s":"10","b":"RA","x":13,"y":-0.18},{"s":"10","b":"RA","x":10,"y":-0.194},{"s":"10","b":"RA","x":7,"y":-0.206},{"s":"10","b":"RA","x":4,"y":-0.217},{"s":"10","b":"RA","x":2,"y":-0.224},{"s":"10","b":"RA","x":0,"y":-0.23},
{"s":"10","b":"RB","x":0,"y":0.229},{"s":"10","b":"RB","x":2,"y":0.222},{"s":"10","b":"RB","x":4,"y":0.215},{"s":"10","b":"RB","x":7,"y":0.204},{"s":"10","b":"RB","x":10,"y":0.193},{"s":"10","b":"RB","x":13,"y":0.181},{"s":"10","b":"RB","x":16,"y":0.17},{"s":"10","b":"RB","x":18,"y":0.163},{"s":"10","b":"RB","x":20,"y":0.156},{"s":"10","b":"RB","x":22,"y":0.149},{"s":"10","b":"RB","x":24.6,"y":0.138},{"s":"10","b":"RB","x":26.7,"y":0.129},{"s":"10","b":"RB","x":27.9,"y":0.115},{"s":"10","b":"RB","x":28.8,"y":0.097},{"s":"10","b":"RB","x":29.4,"y":0.075},{"s":"10","b":"RB","x":29.6,"y":0.05},{"s":"10","b":"RB","x":29.7,"y":0.02},{"s":"10","b":"RB","x":29.6,"y":-0.01},{"s":"10","b":"RB","x":29.2,"y":-0.035},{"s":"10","b":"RB","x":28.3,"y":-0.06},{"s":"10","b":"RB","x":27.1,"y":-0.074},{"s":"10","b":"RB","x":25.5,"y":-0.082},{"s":"10","b":"RB","x":24.6,"y":-0.085},{"s":"10","b":"RB","x":22.5,"y":-0.093},{"s":"10","b":"RB","x":20,"y":-0.1},{"s":"10","b":"RB","x":17.5,"y":-0.113},{"s":"10","b":"RB","x":15.8,"y":-0.125},{"s":"10","b":"RB","x":13.3,"y":-0.144},{"s":"10","b":"RB","x":10,"y":-0.166},{"s":"10","b":"RB","x":7.4,"y":-0.18},{"s":"10","b":"RB","x":4,"y":-0.203},{"s":"10","b":"RB","x":2,"y":-0.217},{"s":"10","b":"RB","x":0,"y":-0.23},
{"s":"10","b":"RC","x":28.5,"y":0.025},{"s":"10","b":"RC","x":27.8,"y":0.0},{"s":"10","b":"RC","x":27,"y":-0.03},{"s":"10","b":"RC","x":26.3,"y":-0.062},{"s":"10","b":"RC","x":25.2,"y":-0.09},{"s":"10","b":"RC","x":24.2,"y":-0.116},{"s":"10","b":"RC","x":22,"y":-0.145},{"s":"10","b":"RC","x":20,"y":-0.166},{"s":"10","b":"RC","x":18,"y":-0.182},{"s":"10","b":"RC","x":15.8,"y":-0.198},{"s":"10","b":"RC","x":13,"y":-0.208},{"s":"10","b":"RC","x":10,"y":-0.216},{"s":"10","b":"RC","x":5,"y":-0.225},{"s":"10","b":"RC","x":0,"y":-0.23},
{"s":"S","b":"SN1","x":0,"y":0.0},{"s":"S","b":"SN1","x":5,"y":0.001},{"s":"S","b":"SN1","x":10,"y":0.001},{"s":"S","b":"SN1","x":15,"y":0.002},{"s":"S","b":"SN1","x":20,"y":0.003},{"s":"S","b":"SN1","x":25,"y":0.013},{"s":"S","b":"SN1","x":30,"y":0.03},{"s":"S","b":"SN1","x":35,"y":0.063},{"s":"S","b":"SN1","x":40,"y":0.104},{"s":"S","b":"SN1","x":45,"y":0.142},{"s":"S","b":"SN1","x":50,"y":0.175},{"s":"S","b":"SN1","x":55,"y":0.205},
{"s":"S","b":"SN2","x":0,"y":0.0},{"s":"S","b":"SN2","x":5,"y":0.0},{"s":"S","b":"SN2","x":10,"y":0.0},{"s":"S","b":"SN2","x":15,"y":-0.001},{"s":"S","b":"SN2","x":20,"y":-0.003},{"s":"S","b":"SN2","x":25,"y":-0.017},{"s":"S","b":"SN2","x":30,"y":-0.04},{"s":"S","b":"SN2","x":35,"y":-0.07},{"s":"S","b":"SN2","x":40,"y":-0.098},{"s":"S","b":"SN2","x":45,"y":-0.132},{"s":"S","b":"SN2","x":50,"y":-0.166},{"s":"S","b":"SN2","x":55,"y":-0.2},
{"s":"S","b":"SN3","x":0,"y":0.002},{"s":"S","b":"SN3","x":3,"y":0.006},{"s":"S","b":"SN3","x":6,"y":0.008},{"s":"S","b":"SN3","x":10,"y":0.009},{"s":"S","b":"SN3","x":14,"y":0.008},{"s":"S","b":"SN3","x":18,"y":0.005},{"s":"S","b":"SN3","x":21,"y":0.003}
]
},
"hconcat": [
{
  "width": 474, "height": 368,
  "title": {"text": ["C_A Amplitude Comparison", "(M=0.15, DTPHYS=0.5)"]},
  "encoding": {
    "x": {"field": "x", "type": "quantitative", "scale": {"domain": [0, 60], "nice": false, "zero": false}, "axis": {"values": [0, 10, 20, 30, 40, 50, 60], "title": "α_T [deg]"}},
    "y": {"field": "y", "type": "quantitative", "scale": {"domain": [-0.9, 0], "nice": false, "zero": false}, "axis": {"values": [-0.9, -0.8, -0.7, -0.6, -0.5, -0.4, -0.3, -0.2, -0.1, 0], "format": ".1f", "title": "C_A,Dynamic"}},
    "color": {"field": "s", "type": "nominal", "scale": {"domain": ["25", "15", "10", "S"], "range": ["#0000ff", "#008000", "#ff0000", "#00bfbf"]},
      "legend": {"orient": "bottom-right", "labelExpr": "datum.label == '25' ? 'θₘₐₓ=25ᵒ' : datum.label == '15' ? 'θₘₐₓ=15ᵒ' : datum.label == '10' ? 'θₘₐₓ=10ᵒ' : 'Static'"}},
    "detail": {"field": "b"},
    "order": {"value": null}
  },
  "layer": [
    {"data": {"name": "a_dot"}, "transform": [{"filter": "datum.s == '25'"}], "mark": {"type": "line", "strokeWidth": 4.4, "strokeDash": [0, 8], "strokeCap": "round"}},
    {"data": {"name": "a_dot"}, "transform": [{"filter": "datum.s == '15'"}], "mark": {"type": "line", "strokeWidth": 4, "strokeDash": [0, 6.5], "strokeCap": "round"}},
    {"data": {"name": "a_solid"}, "mark": {"type": "line", "strokeWidth": 3.6, "strokeCap": "round", "strokeJoin": "round"}}
  ]
},
{
  "width": 474, "height": 368,
  "title": {"text": ["C_N Amplitude Comparison", "(M=0.15, DTPHYS=0.5)"]},
  "encoding": {
    "x": {"field": "x", "type": "quantitative", "scale": {"domain": [0, 60], "nice": false, "zero": false}, "axis": {"values": [0, 10, 20, 30, 40, 50, 60], "title": "α_T [deg]"}},
    "y": {"field": "y", "type": "quantitative", "scale": {"domain": [-0.5, 0.5], "nice": false, "zero": false}, "axis": {"values": [-0.4, -0.2, 0, 0.2, 0.4], "format": ".1f", "title": "C_N,Dynamic"}},
    "color": {"field": "s", "type": "nominal", "scale": {"domain": ["25", "15", "10", "S"], "range": ["#0000ff", "#008000", "#ff0000", "#00bfbf"]},
      "legend": {"orient": "top-right", "labelExpr": "datum.label == '25' ? 'θₘₐₓ=25ᵒ' : datum.label == '15' ? 'θₘₐₓ=15ᵒ' : datum.label == '10' ? 'θₘₐₓ=10ᵒ' : 'Static'"}},
    "detail": {"field": "b"},
    "order": {"value": null}
  },
  "layer": [
    {"data": {"name": "n_dot"}, "transform": [{"filter": "datum.s == '25'"}], "mark": {"type": "line", "strokeWidth": 4.4, "strokeDash": [0, 8], "strokeCap": "round"}},
    {"data": {"name": "n_dot"}, "transform": [{"filter": "datum.s == '15'"}], "mark": {"type": "line", "strokeWidth": 4, "strokeDash": [0, 6.5], "strokeCap": "round"}},
    {"data": {"name": "n_solid"}, "mark": {"type": "line", "strokeWidth": 3.6, "strokeCap": "round", "strokeJoin": "round"}}
  ]
}
]
}
